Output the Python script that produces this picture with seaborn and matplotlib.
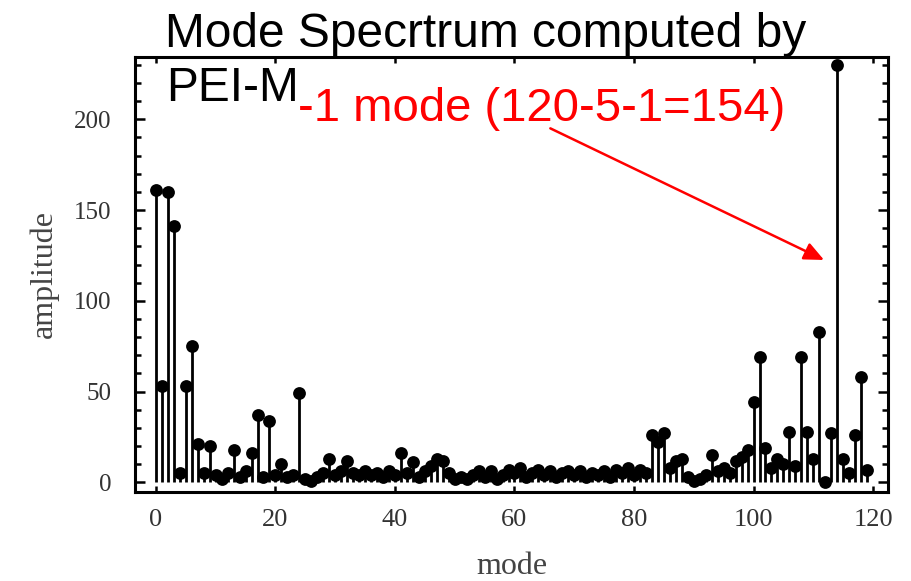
import numpy as np
import pandas as pd
import matplotlib
matplotlib.use("Agg")
import matplotlib.pyplot as plt
import seaborn as sns

modes = list(range(120))
amplitude = [
    161, 53, 160, 141, 5, 53, 75, 21, 5, 20,
    4, 2, 5, 18, 3, 6, 16, 37, 3, 34,
    4, 10, 3, 4, 49, 2, 1, 3, 5, 13,
    4, 6, 12, 5, 4, 6, 4, 5, 3, 6,
    4, 16, 5, 11, 3, 6, 9, 13, 12, 5,
    2, 3, 2, 4, 6, 3, 6, 2, 4, 7,
    5, 8, 3, 5, 7, 4, 6, 3, 5, 6,
    4, 6, 3, 5, 4, 6, 3, 7, 5, 8,
    4, 7, 5, 26, 22, 27, 8, 12, 13, 3,
    1, 2, 4, 15, 6, 8, 5, 12, 14, 18,
    44, 69, 19, 8, 13, 10, 28, 9, 69, 28,
    13, 83, 0, 27, 230, 13, 5, 26, 58, 7,
]
x_ticks = [0, 20, 40, 60, 80, 100, 120]
y_ticks = [0, 50, 100, 150, 200]
title_line1 = "Mode Specrtrum computed by"
title_line2 = "PEI-M"
note_text = "-1 mode (120-5-1=154)"

df = pd.DataFrame({"mode": modes, "amplitude": amplitude})

sns.set_theme(style="ticks")
plt.rcParams["font.family"] = ["Liberation Serif", "DejaVu Serif"]

fig = plt.figure(figsize=(9.11, 5.81), dpi=100)
ax = fig.add_axes([135/911, 1-492/581, (888-135)/911, (492-57)/581])

ax.vlines(df["mode"], 0, df["amplitude"], color="black", lw=2.0, zorder=2)
sns.scatterplot(data=df, x="mode", y="amplitude", ax=ax, color="black",
                s=85, edgecolor="black", linewidth=0, zorder=3, legend=False)

ax.set_xlim(-3.5, 122.5)
ax.set_ylim(-5.3, 234.3)
ax.set_xticks(x_ticks)
ax.set_yticks(y_ticks)
ax.set_yticks(np.arange(0, 231, 10), minor=True)
ax.tick_params(axis="both", which="both", direction="in", top=True, right=True,
               color="black", width=1.8)
ax.tick_params(axis="x", which="major", length=4, pad=12, labelsize=19, labelcolor="#333333")
ax.tick_params(axis="y", which="major", length=7, pad=17, labelsize=18, labelcolor="#333333")
ax.tick_params(axis="y", which="minor", length=4)
for sp in ax.spines.values():
    sp.set_linewidth(2.2)
    sp.set_color("black")

ax.set_xlabel("mode", fontsize=23, color="#444444", labelpad=15)
ax.set_ylabel("amplitude", fontsize=23, color="#444444", labelpad=11)

sans = ["Liberation Sans", "DejaVu Sans"]
fig.text(165/911, 1-47/581, title_line1, ha="left", va="baseline", fontsize=34.5,
         family=sans, color="black")
fig.text(166/911, 1-101/581, title_line2, ha="left", va="baseline", fontsize=34.5,
         family=sans, color="black")

ax.text(23.8, 205.7, note_text, ha="left", va="center", fontsize=34,
        family=sans, color="#ff0000")
ax.annotate("", xy=(111.8, 122.5), xytext=(66.0, 195.0),
            arrowprops=dict(arrowstyle="-|>,head_length=1.0,head_width=0.45",
                            color="#ff0000", lw=1.8, shrinkA=0, shrinkB=0))

fig.savefig("out.png", dpi=100)
